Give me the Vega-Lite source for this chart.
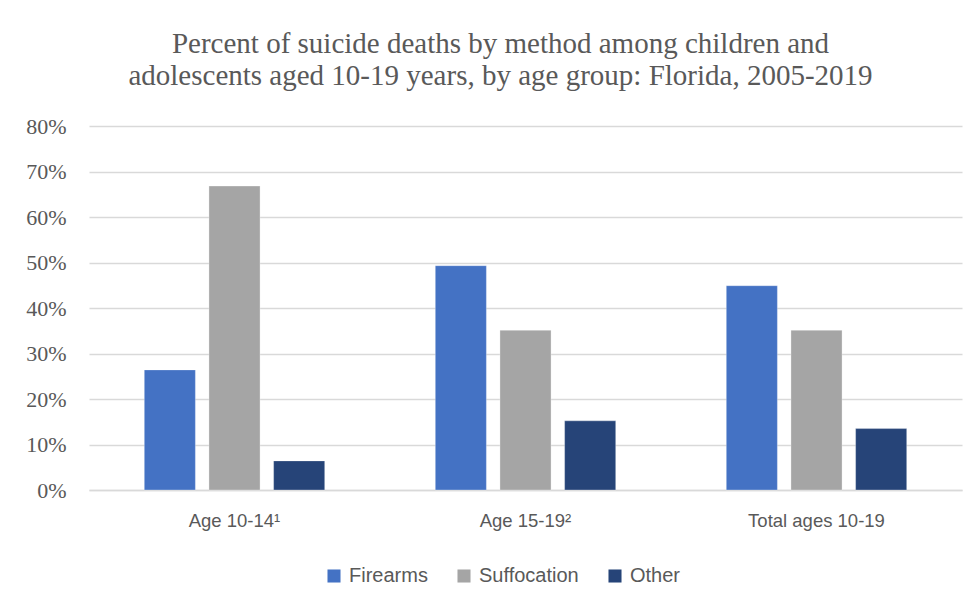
{
  "$schema": "https://vega.github.io/schema/vega-lite/v6.json",
  "width": 873,
  "height": 364,
  "padding": {"left": 0, "top": 30, "right": 17, "bottom": 0},
  "background": "white",
  "data": {
    "values": [
      {"group": "Age 10-14¹", "method": "Firearms", "pct": 0.264},
      {"group": "Age 10-14¹", "method": "Suffocation", "pct": 0.668},
      {"group": "Age 10-14¹", "method": "Other", "pct": 0.064},
      {"group": "Age 15-19²", "method": "Firearms", "pct": 0.493},
      {"group": "Age 15-19²", "method": "Suffocation", "pct": 0.351},
      {"group": "Age 15-19²", "method": "Other", "pct": 0.152},
      {"group": "Total ages 10-19", "method": "Firearms", "pct": 0.449},
      {"group": "Total ages 10-19", "method": "Suffocation", "pct": 0.351},
      {"group": "Total ages 10-19", "method": "Other", "pct": 0.135}
    ]
  },
  "title": {
    "text": ["Percent of suicide deaths by method among children and", "adolescents aged 10-19 years, by age group: Florida, 2005-2019"],
    "font": "Liberation Serif",
    "fontSize": 29,
    "fontWeight": "normal",
    "color": "#595959",
    "lineHeight": 32,
    "anchor": "middle",
    "frame": "group",
    "dx": -25,
    "offset": 24
  },
  "mark": {"type": "bar", "stroke": "white", "strokeWidth": 0.5, "strokeOpacity": 0.6},
  "encoding": {
    "x": {
      "field": "group",
      "type": "nominal",
      "sort": null,
      "scale": {"paddingInner": 0.38, "paddingOuter": 0.19},
      "axis": {
        "title": null,
        "labelAngle": 0,
        "labelFont": "Liberation Sans",
        "labelFontSize": 18.5,
        "labelColor": "#595959",
        "labelPadding": 21,
        "ticks": false,
        "domainColor": "#d9d9d9",
        "domainWidth": 1.5
      }
    },
    "xOffset": {
      "field": "method",
      "type": "nominal",
      "sort": ["Firearms", "Suffocation", "Other"],
      "scale": {"paddingInner": 0.21, "paddingOuter": 0}
    },
    "y": {
      "field": "pct",
      "type": "quantitative",
      "scale": {"domain": [0, 0.8]},
      "axis": {
        "title": null,
        "format": ".0%",
        "values": [0, 0.1, 0.2, 0.3, 0.4, 0.5, 0.6, 0.7, 0.8],
        "labelFont": "Liberation Serif",
        "labelFontSize": 22,
        "labelColor": "#595959",
        "labelPadding": 23,
        "ticks": false,
        "domain": false,
        "gridColor": "#d9d9d9",
        "gridWidth": 1.5,
        "minExtent": 89,
        "maxExtent": 89
      }
    },
    "color": {
      "field": "method",
      "type": "nominal",
      "sort": ["Firearms", "Suffocation", "Other"],
      "scale": {"domain": ["Firearms", "Suffocation", "Other"], "range": ["#4472C4", "#A5A5A5", "#264478"]},
      "legend": {
        "title": null,
        "orient": "none",
        "direction": "horizontal",
        "legendX": 235,
        "legendY": 440,
        "symbolType": "square",
        "symbolSize": 170,
        "symbolStrokeWidth": 0,
        "labelFont": "Liberation Sans",
        "labelFontSize": 20,
        "labelColor": "#595959",
        "labelOffset": 5,
        "columnPadding": 26
      }
    }
  },
  "config": {"view": {"stroke": null}}
}
